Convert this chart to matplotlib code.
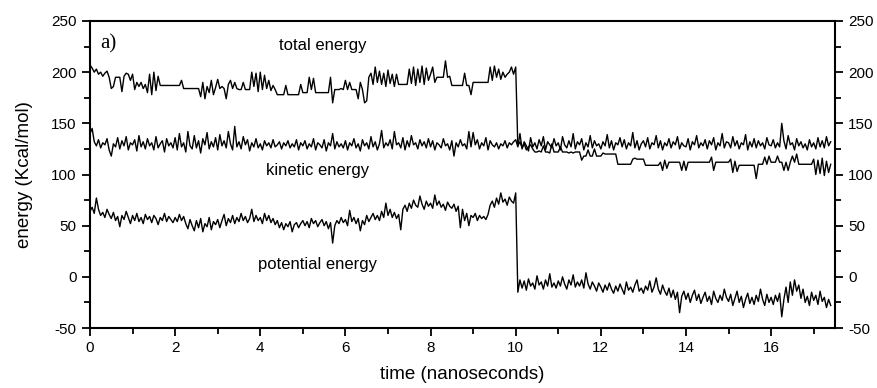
import numpy as np
import matplotlib
matplotlib.use("Agg")
import matplotlib.pyplot as plt
from matplotlib.ticker import MultipleLocator

plt.rcParams['font.family'] = ['Liberation Sans', 'DejaVu Sans']
plt.rcParams['axes.unicode_minus'] = False

dt = 0.05  # ns between samples

# total energy (Kcal/mol), one row per nanosecond
total = [
    207, 204, 200, 203, 198, 200, 196, 199, 201, 195, 184, 186, 195, 195, 195, 181, 196, 199, 198, 192,
    198, 183, 190, 186, 190, 184, 188, 180, 198, 178, 200, 182, 196, 187, 187, 187, 187, 187, 187, 187,
    187, 187, 187, 192, 184, 184, 184, 184, 184, 184, 184, 184, 176, 190, 174, 186, 180, 192, 178, 185,
    193, 184, 186, 184, 174, 188, 192, 184, 190, 184, 183, 183, 190, 183, 183, 183, 200, 186, 199, 181,
    200, 183, 197, 184, 192, 182, 187, 183, 178, 178, 178, 178, 187, 178, 178, 178, 178, 178, 178, 188,
    180, 180, 180, 195, 183, 194, 180, 180, 180, 180, 180, 180, 180, 195, 170, 183, 183, 183, 184, 183,
    192, 183, 190, 183, 183, 183, 174, 190, 183, 170, 172, 195, 199, 188, 205, 190, 201, 188, 199, 186,
    202, 189, 198, 186, 198, 188, 188, 188, 188, 188, 203, 189, 205, 187, 203, 190, 206, 188, 204, 192,
    198, 205, 190, 195, 195, 195, 195, 211, 195, 196, 187, 187, 187, 187, 187, 187, 199, 187, 187, 178,
    190, 190, 190, 190, 190, 190, 190, 190, 205, 192, 206, 195, 203, 193, 200, 195, 198, 200, 205, 198,
    205, 128, 132, 126, 130, 124, 127, 129, 125, 122, 122, 123, 122, 128, 122, 122, 121, 130, 122, 122,
    122, 127, 122, 122, 122, 121, 122, 121, 122, 122, 122, 114, 118, 118, 124, 118, 118, 125, 118, 118,
    118, 121, 120, 120, 120, 120, 120, 120, 110, 110, 110, 110, 110, 110, 110, 115, 116, 115, 115, 115,
    115, 109, 109, 109, 109, 109, 109, 109, 112, 104, 114, 106, 112, 112, 112, 112, 112, 112, 104, 113,
    104, 112, 112, 112, 112, 112, 112, 112, 112, 112, 112, 112, 117, 104, 112, 112, 112, 112, 112, 112,
    112, 115, 102, 113, 103, 109, 109, 109, 109, 109, 109, 109, 109, 96, 110, 110, 110, 117, 110, 118,
    112, 112, 112, 118, 112, 112, 104, 112, 104, 112, 118, 112, 120, 110, 110, 110, 110, 110, 110, 110,
    115, 100, 114, 101, 116, 99, 113, 102, 110,
]

kinetic = [
    140, 145, 132, 128, 134, 126, 131, 129, 135, 124, 118, 130, 127, 136, 125, 133, 128, 137, 124, 131,
    129, 134, 123, 138, 127, 132, 125, 135, 128, 131, 124, 137, 126, 130, 133, 122, 135, 128, 131, 126,
    136, 124, 140, 127, 131, 122, 142, 128, 125, 138, 126, 133, 121, 135, 129, 141, 125, 132, 127, 136,
    124, 139, 128, 133, 126, 142, 130, 124, 147, 127, 132, 125, 137, 129, 134, 123, 131, 127, 135, 126,
    130, 124, 133, 128, 131, 126, 134, 127, 129, 132, 125, 131, 128, 133, 126, 130, 127, 134, 124, 131,
    128, 133, 125, 130, 127, 135, 124, 131, 129, 126, 134, 123, 131, 128, 140, 125, 132, 127, 130, 126,
    133, 124, 131, 128, 135, 126, 130, 123, 134, 128, 131, 125, 137, 127, 132, 124, 130, 143, 126, 131,
    128, 134, 125, 142, 129, 131, 126, 136, 124, 133, 127, 138, 129, 131, 125, 134, 128, 132, 126, 135,
    127, 133, 124, 131, 129, 126, 135, 128, 130, 124, 133, 118, 131, 127, 134, 128, 130, 125, 142, 127,
    141, 129, 134, 125, 131, 128, 136, 124, 133, 129, 127, 131, 125, 130, 128, 133, 126, 131, 129, 132,
    134, 127, 140, 125, 132, 128, 123, 136, 127, 131, 125, 134, 128, 137, 124, 132, 129, 126, 135, 128,
    131, 124, 137, 129, 126, 133, 127, 140, 125, 132, 129, 135, 124, 131, 127, 138, 126, 133, 128, 130,
    125, 132, 128, 139, 126, 133, 124, 131, 129, 136, 127, 134, 125, 131, 128, 141, 126, 133, 124, 130,
    133, 127, 136, 125, 131, 129, 138, 126, 133, 124, 131, 128, 135, 126, 132, 129, 137, 125, 131, 128,
    127, 135, 124, 132, 129, 138, 126, 131, 128, 134, 125, 133, 129, 136, 124, 131, 128, 140, 126, 132,
    131, 126, 137, 128, 133, 125, 131, 129, 139, 124, 132, 127, 135, 126, 133, 128, 131, 125, 136, 129,
    128, 134, 126, 131, 127, 150, 133, 125, 138, 129, 131, 124, 135, 128, 132, 126, 130, 124, 134, 127,
    131, 125, 136, 127, 133, 126, 137, 128, 132,
]

potential = [
    64, 68, 62, 77, 66, 60, 63, 58, 66, 61, 57, 63, 55, 59, 49, 60, 56, 64, 58, 52,
    60, 55, 62, 54, 58, 52, 61, 56, 59, 53, 60, 57, 51, 58, 55, 62, 54, 59, 56, 53,
    58, 54, 61, 55, 59, 52, 47, 56, 50, 45, 55, 48, 57, 44, 52, 49, 58, 46, 54, 51,
    56, 48, 55, 61, 50, 57, 53, 60, 52, 58, 54, 62, 55, 59, 53, 57, 66, 54, 60, 55,
    58, 52, 62, 55, 60, 53, 57, 51, 55, 48, 53, 46, 52, 49, 54, 44, 51, 53, 48, 52,
    55, 50, 54, 48, 57, 52, 55, 49, 53, 56, 50, 54, 47, 53, 33, 50, 55, 52, 58, 53,
    56, 50, 65, 54, 58, 52, 57, 45, 55, 51, 60, 54, 58, 62, 56, 60, 55, 64, 58, 72,
    60, 66, 58, 63, 57, 61, 46, 66, 70, 64, 72, 67, 75, 70, 68, 79, 71, 66, 74, 69,
    72, 67, 80, 70, 74, 68, 71, 65, 73, 69, 67, 71, 64, 69, 48, 66, 55, 62, 50, 60,
    58, 62, 55, 60, 57, 59, 56, 61, 70, 74, 68, 77, 71, 82, 73, 76, 70, 78, 74, 72,
    82, -15, -3, -11, -4, -13, -2, -9, -6, -12, 1, -8, -5, -12, -3, -9, 3, -10, -6, -11,
    -4, -9, 0, -7, -12, -3, -8, 2, -10, -5, -9, -3, -11, 4, -7, -12, -5, -9, -14, -6,
    -10, -15, -8, -13, -6, -12, -16, -9, -14, -7, -12, -17, -5, -13, -10, -15, -8, -3, -14, -11,
    -16, -9, -13, -4, -15, -10, -1, -12, -17, -8, -14, -18, -11, -20, -13, -22, -15, -35, -19, -14,
    -22, -16, -25, -18, -13, -23, -17, -26, -20, -15, -24, -19, -27, -14, -21, -25, -18, -23, -12, -20,
    -24, -17, -28, -21, -14, -25, -19, -30, -22, -16, -26, -20, -27, -18, -24, -12, -22, -28, -17, -25,
    -20, -27, -18, -24, -16, -39, -22, -10, -25, -5, -18, -3, -14, -8, -21, -12, -25, -19, -28, -15,
    -23, -18, -27, -14, -24, -20, -30, -22, -28,
]

fig = plt.figure(figsize=(8.78, 3.88), dpi=100)
ax = fig.add_axes([0.1025, 0.1546, 0.8485, 0.7913])

for series in (total, kinetic, potential):
    t = np.arange(len(series)) * dt
    ax.plot(t, series, color='black', linewidth=1.0)

ax.set_xlim(0, 17.5)
ax.set_ylim(-50, 250)
ax.xaxis.set_major_locator(MultipleLocator(2))
ax.xaxis.set_minor_locator(MultipleLocator(1))
ax.yaxis.set_major_locator(MultipleLocator(50))
ax.yaxis.set_minor_locator(MultipleLocator(25))
ax.tick_params(which='both', direction='out', top=False, right=True,
               labelright=True, width=1.3, labelsize=11)
ax.tick_params(which='major', length=6)
ax.tick_params(which='minor', length=4)
for s in ax.spines.values():
    s.set_linewidth(1.5)

ax.set_xlabel('time (nanoseconds)', fontsize=13.5, labelpad=8)
ax.set_ylabel('energy (Kcal/mol)', fontsize=13.5, labelpad=13)

ax.text(5.47, 226, 'total energy', fontsize=12, ha='center', va='center')
ax.text(5.35, 104, 'kinetic energy', fontsize=12, ha='center', va='center')
ax.text(5.35, 12, 'potential energy', fontsize=12, ha='center', va='center')
ax.text(0.25, 228, 'a)', fontsize=15, ha='left', va='center',
        family=['Liberation Serif', 'DejaVu Serif'])

fig.savefig('out.png', dpi=100)
